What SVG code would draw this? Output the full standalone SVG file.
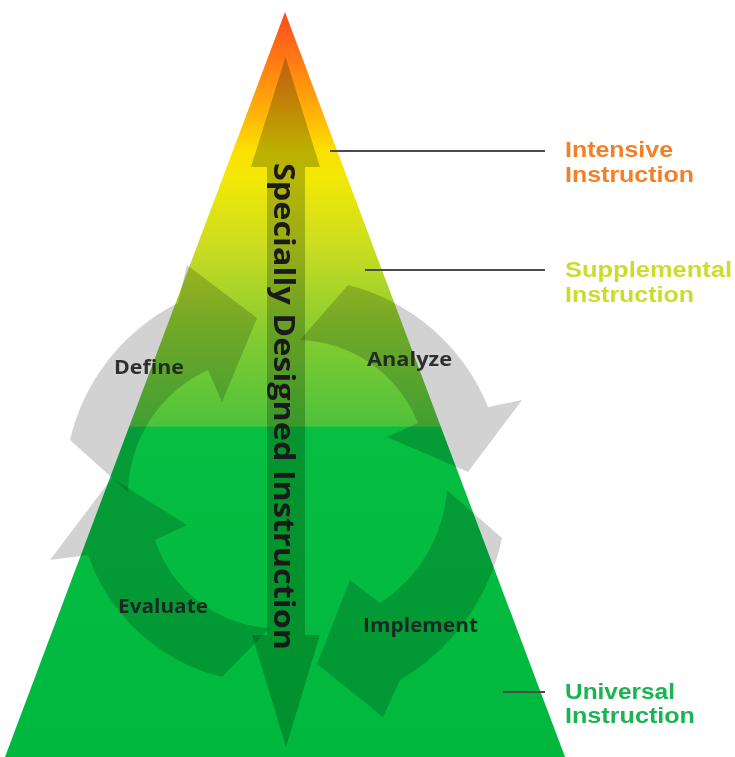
<svg xmlns="http://www.w3.org/2000/svg" width="735" height="757" viewBox="0 0 735 757">
  <defs>
    <linearGradient id="tierFill" gradientUnits="userSpaceOnUse" x1="0" y1="12" x2="0" y2="757">
      <stop offset="0" stop-color="#FF4A1E"/>
      <stop offset="0.064" stop-color="#FF7A14"/>
      <stop offset="0.13" stop-color="#FFAE08"/>
      <stop offset="0.185" stop-color="#FCE000"/>
      <stop offset="0.225" stop-color="#F2E806"/>
      <stop offset="0.32" stop-color="#C8DC22"/>
      <stop offset="0.427" stop-color="#88CC30"/>
      <stop offset="0.555" stop-color="#4EC23C"/>
      <stop offset="0.558" stop-color="#05BE42"/>
      <stop offset="1" stop-color="#00B83E"/>
    </linearGradient>
  </defs>
  <style>
    .cyc { fill: #D2D2D3; mix-blend-mode: multiply; }
    .sdi { fill: #C0C8B8; mix-blend-mode: multiply; }
    .step { font-family: "Open Sans", "Liberation Sans", sans-serif; font-weight: 700; font-size: 20px; fill: #1E1E1E; opacity: 0.9; }
    .tier { font-family: "Liberation Sans", Arial, sans-serif; font-weight: 700; font-size: 22px; }
    .lead { stroke: #4A4A4A; stroke-width: 2; fill: none; }
  </style>

  <!-- tiered pyramid -->
  <g id="pyramid">
    <path d="M285 12 L565 757 L5 757 Z" fill="url(#tierFill)"/>
  </g>

  <!-- four-step cycle -->
  <g id="define">
    <path class="cyc" d="M70 440 A205 205 0 0 1 178 303 L187 265 L257 318 L222 402 L208 370 A137 137 0 0 0 128 492 Z"/>
    <text class="step" x="114" y="374" textLength="70" lengthAdjust="spacingAndGlyphs">Define</text>
  </g>
  <g id="analyze">
    <path class="cyc" d="M348 285 A205 205 0 0 1 488 407 L522 400 L468 472 L387 437 L418 423 A132 132 0 0 0 300 340 Z"/>
    <text class="step" x="367" y="366" textLength="85" lengthAdjust="spacingAndGlyphs">Analyze</text>
  </g>
  <g id="implement">
    <path class="cyc" d="M447 490 L502 538 A216 216 0 0 1 400 680 L383 717 L317 664 L350 580 L380 603 A148 148 0 0 0 447 490 Z"/>
    <text class="step" x="363" y="632" textLength="115" lengthAdjust="spacingAndGlyphs">Implement</text>
  </g>
  <g id="evaluate">
    <path class="cyc" d="M222 677 A190 190 0 0 1 88 555 L50 560 L112 478 L187 525 L155 540 A128 128 0 0 0 270 628 Z"/>
    <text class="step" x="118" y="613" textLength="90" lengthAdjust="spacingAndGlyphs">Evaluate</text>
  </g>

  <!-- double-headed vertical arrow -->
  <g id="specially-designed">
    <path class="sdi" d="M285.5 57 L320 167 L305 167 L305 635 L320 635 L286 747 L252 635 L267 635 L267 167 L251 167 Z"/>
    <text transform="translate(274 163) rotate(90)" font-family="Open Sans, Liberation Sans, sans-serif" font-weight="700" font-size="29" fill="#1A1A1A" textLength="487" lengthAdjust="spacingAndGlyphs">Specially Designed Instruction</text>
  </g>

  <!-- leader lines from tiers to their labels -->
  <g id="connectors">
    <line class="lead" x1="330" y1="151" x2="545" y2="151"/>
    <line class="lead" x1="365" y1="270" x2="545" y2="270"/>
    <line class="lead" x1="503" y1="692" x2="545" y2="692" stroke="#2A2A2A"/>
  </g>

  <g id="intensive">
    <text class="tier" fill="#F47F25"><tspan x="565" y="157" textLength="108" lengthAdjust="spacingAndGlyphs">Intensive</tspan><tspan x="565" y="182" textLength="129" lengthAdjust="spacingAndGlyphs">Instruction</tspan></text>
  </g>
  <g id="supplemental">
    <text class="tier" fill="#CDDB2E"><tspan x="565" y="277" textLength="167" lengthAdjust="spacingAndGlyphs">Supplemental</tspan><tspan x="565" y="302" textLength="129" lengthAdjust="spacingAndGlyphs">Instruction</tspan></text>
  </g>
  <g id="universal">
    <text class="tier" fill="#1BB452"><tspan x="565" y="699" textLength="110" lengthAdjust="spacingAndGlyphs">Universal</tspan><tspan x="565" y="723" textLength="130" lengthAdjust="spacingAndGlyphs">Instruction</tspan></text>
  </g>
</svg>
